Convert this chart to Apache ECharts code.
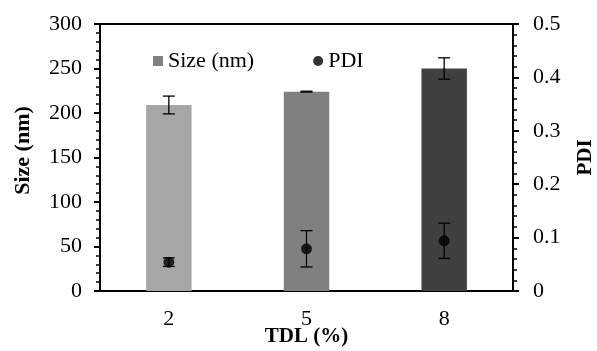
<!DOCTYPE html>
<html>
<head>
<meta charset="utf-8">
<script src="https://cdn.jsdelivr.net/npm/echarts@6/dist/echarts.min.js"></script>
<style>
  html, body { margin: 0; padding: 0; background: #fff; }
  #chart { width: 597px; height: 351px; }
</style>
</head>
<body>
<div id="chart"></div>
<script>
// TDL content (%)
const categories = ['2', '5', '8']
// particle size (nm) and its error
const sizeValues = [209, 224, 250]
const sizeErrors = [10, 0.5, 12]
// polydispersity index and its error
const pdiValues = [0.054, 0.079, 0.094]
const pdiErrors = [0.008, 0.034, 0.033]

const barColors = ['#a6a6a6', '#808080', '#404040']
const font = '"Liberation Serif", "Times New Roman", serif'

const chart = echarts.init(document.getElementById('chart'))

function errorBar(capWidth) {
    return function (params, api) {
        const x = api.value(0)
        const top = api.coord([x, api.value(2)])
        const bot = api.coord([x, api.value(1)])
        const style = { stroke: '#000', lineWidth: 1.3 }
        return {
            type: 'group',
            children: [
                { type: 'line', shape: { x1: top[0], y1: top[1], x2: bot[0], y2: bot[1] }, style: style },
                { type: 'line', shape: { x1: top[0] - capWidth / 2, y1: top[1], x2: top[0] + capWidth / 2, y2: top[1] }, style: style },
                { type: 'line', shape: { x1: bot[0] - capWidth / 2, y1: bot[1], x2: bot[0] + capWidth / 2, y2: bot[1] }, style: style },
            ],
        }
    }
}

const valueAxisBase = {
    type: 'value',
    min: 0,
    splitNumber: 5,
    splitLine: { show: false },
    axisLine: { show: true, lineStyle: { color: '#000', width: 2 } },
    axisTick: { show: true, length: 6, lineStyle: { color: '#000', width: 2 } },
    minorTick: { show: true, splitNumber: 5, length: 4, lineStyle: { color: '#000', width: 1.5 } },
    nameLocation: 'middle',
    nameRotate: 90,
    nameMoveOverlap: false,
}

const option = {
    animation: false,
    grid: {
        left: 100,
        right: 84,
        top: 24,
        bottom: 60,
        outerBoundsMode: 'none',
        containLabel: false,
        show: true,
        borderColor: '#000',
        borderWidth: 2,
    },
    legend: {
        left: 148,
        top: 45,
        itemWidth: 10,
        itemHeight: 10,
        itemGap: 59,
        textStyle: { fontFamily: font, fontSize: 22, color: '#000' },
        data: [
            { name: 'Size (nm)', icon: 'rect' },
            { name: 'PDI', icon: 'circle' },
        ],
    },
    xAxis: {
        type: 'category',
        data: categories,
        axisLine: { show: true, lineStyle: { color: '#000', width: 2 } },
        axisTick: { show: false },
        axisLabel: { fontFamily: font, fontSize: 22, color: '#000', margin: 17 },
        name: 'TDL (%)',
        nameLocation: 'middle',
        nameGap: 35,
        nameMoveOverlap: false,
        nameTextStyle: { fontFamily: font, fontSize: 21, fontWeight: 'bold', color: '#000' },
    },
    yAxis: [
        Object.assign({}, valueAxisBase, {
            max: 300,
            interval: 50,
            position: 'left',
            name: 'Size (nm)',
            nameGap: 66,
            nameTextStyle: { fontFamily: font, fontSize: 22, fontWeight: 'bold', color: '#000', padding: [0, 0, 0, 14] },
            axisLabel: { fontFamily: font, fontSize: 22, color: '#000', margin: 18 },
        }),
        Object.assign({}, valueAxisBase, {
            max: 0.5,
            interval: 0.1,
            position: 'right',
            name: 'PDI',
            nameGap: 62,
            nameTextStyle: { fontFamily: font, fontSize: 21, fontWeight: 'bold', color: '#000' },
            axisLabel: { fontFamily: font, fontSize: 22, color: '#000', margin: 20 },
        }),
    ],
    series: [
        {
            name: 'Size (nm)',
            type: 'bar',
            barWidth: '33%',
            itemStyle: { color: '#808080' },
            data: sizeValues.map((v, i) => ({ value: v, itemStyle: { color: barColors[i] } })),
            z: 2,
        },
        {
            name: 'sizeError',
            type: 'custom',
            renderItem: errorBar(12),
            encode: { x: 0, y: [1, 2] },
            data: sizeValues.map((v, i) => [i, v - sizeErrors[i], v + sizeErrors[i]]),
            z: 3,
        },
        {
            name: 'pdiError',
            type: 'custom',
            yAxisIndex: 1,
            renderItem: errorBar(12),
            encode: { x: 0, y: [1, 2] },
            data: pdiValues.map((v, i) => [i, v - pdiErrors[i], v + pdiErrors[i]]),
            z: 3,
        },
        {
            name: 'PDI',
            type: 'scatter',
            yAxisIndex: 1,
            symbol: 'circle',
            symbolSize: 11,
            itemStyle: { color: '#000' },
            data: pdiValues,
            z: 4,
        },
    ],
}

chart.setOption(option)
</script>
</body>
</html>
